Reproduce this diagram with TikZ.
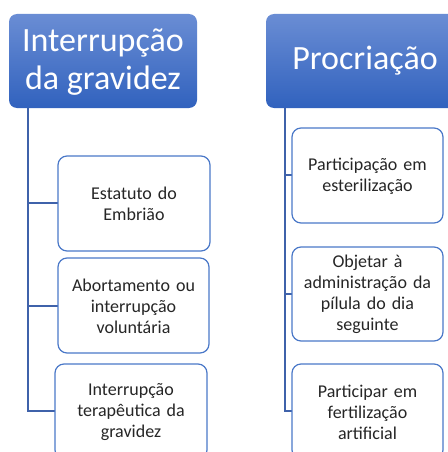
\documentclass[tikz,border=0pt]{standalone}
\usepackage{fontspec}
\setmainfont{Carlito}
\definecolor{hdtop}{HTML}{6A8DD4}
\definecolor{hdbot}{HTML}{3162BE}
\definecolor{lnk}{HTML}{3F62AA}
\definecolor{bxline}{HTML}{4A78C8}
\definecolor{txt}{HTML}{262626}
\begin{document}
\begin{tikzpicture}[x=1pt,y=-1pt,
  header/.style={rounded corners=8pt, top color=hdtop, bottom color=hdbot, draw=none},
  headtext/.style={text=white, font=\fontsize{34}{38}\selectfont, align=center},
  leaf/.style={draw=bxline, line width=1.2pt, rounded corners=9pt, fill=white},
  leaftext/.style={text=txt, font=\fontsize{18}{21}\selectfont, align=center, text width=145pt},
  link/.style={draw=lnk, line width=1.6pt}]
\useasboundingbox (0,0) rectangle (447,452);
% headers
\shade[header] (9,14) rectangle (197,108);
\node[headtext] (h1) at (103,62) {Interrupção\\da gravidez};
\shade[header] (266,14) rectangle (470,108);
\node[headtext] (h2) at (365,61) {Procriação};
\coordinate (t1) at (28,108);
\coordinate (t2) at (285,108);
% connectors left
\coordinate (l1) at (28,203);
\coordinate (l2) at (28,306);
\coordinate (l3) at (28,411);
\draw[link] (t1) -- (l3) -- (56,411);
\draw[link] (l1) -- (58,203);
\draw[link] (l2) -- (58,306);
% connectors right
\coordinate (r1) at (285,175);
\coordinate (r2) at (285,294);
\coordinate (r3) at (285,411);
\draw[link] (t2) -- (r3) -- (292,411);
\draw[link] (r1) -- (292,175);
\draw[link] (r2) -- (292,294);
% left boxes
\draw[leaf] (58,156) rectangle (210,251);
\node[leaftext] (a1) at (134,204) {Estatuto do\\Embrião};
\draw[leaf] (58,258) rectangle (209,353);
\node[leaftext] (a2) at (133.5,306) {Abortamento ou\\interrupção\\voluntária};
\draw[leaf] (55,364) rectangle (207,459);
\node[leaftext] (a3) at (131,412) {Interrupção\\terapêutica da\\gravidez};
% right boxes
\draw[leaf] (292,128) rectangle (443,223);
\node[leaftext] (b1) at (367.5,176) {Participação em\\esterilização};
\draw[leaf] (292,247) rectangle (443,341);
\node[leaftext] (b2) at (367.5,294.5) {Objetar à\\administração da\\pílula do dia\\seguinte};
\draw[leaf] (292,364) rectangle (443,459);
\node[leaftext] (b3) at (367.5,412) {Participar em\\fertilização\\artificial};
\end{tikzpicture}
\end{document}
